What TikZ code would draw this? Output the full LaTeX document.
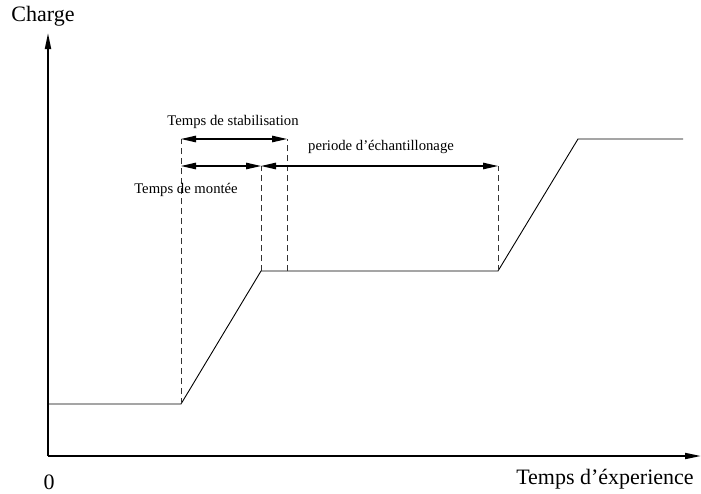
\documentclass[tikz,border=0pt]{standalone}
\usepackage{fontspec}
\setmainfont{Liberation Serif}
\usetikzlibrary{arrows.meta}
\begin{document}
\begin{tikzpicture}[x=1pt,y=-1pt,
  axis/.style={line width=1.8pt,-{Triangle[length=16pt,width=6pt]}},
  curve/.style={line width=0.9pt},
  guide/.style={line width=1pt,dash pattern=on 6pt off 4pt,black!80},
  span/.style={line width=1.1pt,{Triangle[length=15pt,width=6.5pt]}-{Triangle[length=15pt,width=6.5pt]}},
  biglabel/.style={font=\fontsize{22}{26}\selectfont,anchor=base,inner sep=0pt},
  smalllabel/.style={font=\fontsize{14.7}{17}\selectfont,anchor=base,inner sep=0pt}]
\useasboundingbox (0,0) rectangle (701,493);

% axes
\coordinate (O) at (48,456);
\coordinate (Ytop) at (48,33);
\coordinate (Xend) at (701,456);
\draw[axis] (O) -- (Ytop);
\draw[axis] (O) -- (Xend);

% load profile
\coordinate (A) at (48,404);
\coordinate (B) at (181,404);
\coordinate (C) at (261,271);
\coordinate (D) at (498,271);
\coordinate (E) at (578,139);
\coordinate (F) at (683,139);
\draw[curve] (A) -- (B) -- (C) -- (D) -- (E) -- (F);

% guide lines
\coordinate (B1) at (181,139);
\coordinate (B2) at (181,166);
\coordinate (C1) at (261,166);
\coordinate (S0) at (287,271);
\coordinate (S1) at (287,139);
\coordinate (D1) at (498,166);
\draw[guide] (B) -- (B1);
\draw[guide] (C) -- (C1);
\draw[guide] (S0) -- (S1);
\draw[guide] (D) -- (D1);

% time spans
\draw[span] (B1) -- (S1);
\draw[span] (B2) -- (C1);
\draw[span] (C1) -- (D1);

% labels
\node[biglabel] (charge) at (43,21.5) {Charge};
\node[biglabel] (zero) at (49,489) {0};
\node[biglabel] (temps) at (605,484) {Temps d’éxperience};
\node[smalllabel] (stab) at (233,125) {Temps de stabilisation};
\node[smalllabel] (ech) at (381,150) {periode d’échantillonage};
\node[smalllabel] (montee) at (186,193) {Temps de montée};
\end{tikzpicture}
\end{document}
